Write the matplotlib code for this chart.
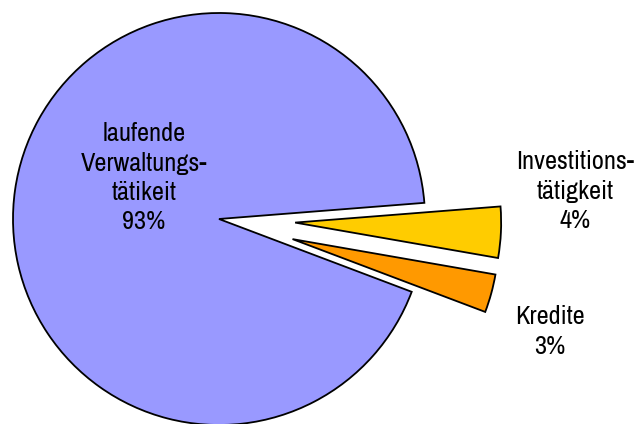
#!/usr/bin/env python3

import matplotlib as mpl
mpl.use('Agg')
import matplotlib.pyplot as plt

# slices in drawing order (counterclockwise from startangle)
labels = ["laufende\nVerwaltungs-\ntätikeit", "Kredite", "Investitions-\ntätigkeit"]
shares = [93, 3, 4]
colors = ["#9999FF", "#FF9900", "#FFCC00"]
explode = [0.0, 0.37, 0.37]

# label anchor positions (pie radius units)
label_pos = [(-0.365, 0.20), (1.605, -0.545), (1.73, 0.135)]

plt.rcParams['font.family'] = ['Liberation Sans Narrow', 'Archivo Narrow', 'Liberation Sans', 'DejaVu Sans']


def main():
    fig = plt.figure(figsize=(6.39, 4.24), dpi=100)
    ax = fig.add_axes([0, 0, 1, 1])
    wedges, _ = ax.pie(shares, colors=colors, explode=explode, startangle=4.5,
                       radius=1.0, counterclock=True,
                       wedgeprops=dict(edgecolor='black', linewidth=1.3))

    for lab, val, (x, y) in zip(labels, shares, label_pos):
        ax.text(x, y, "%s\n%d%%" % (lab, val), ha='center', va='center',
                fontsize=19, linespacing=1.34, color='black')

    ax.set_xlim(-219 / 206, (639 - 219) / 206)
    ax.set_ylim(-(424 - 219) / 206, 219 / 206)
    ax.set_aspect('auto')
    ax.axis('off')
    fig.savefig('out.png', dpi=100)


if __name__ == '__main__':
    main()
